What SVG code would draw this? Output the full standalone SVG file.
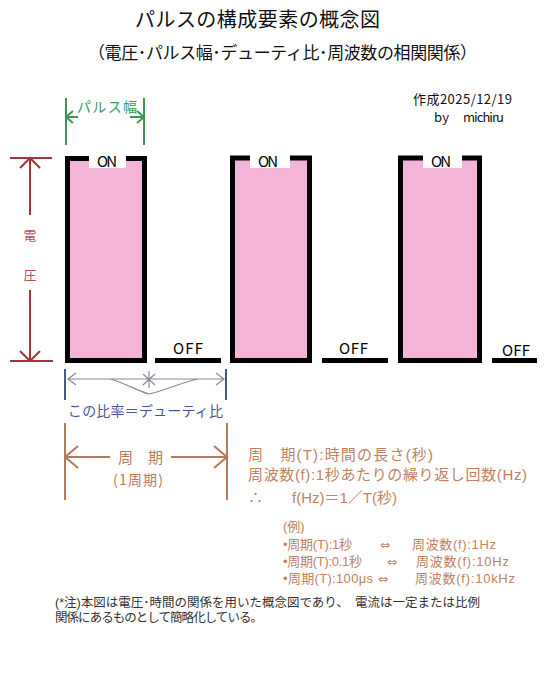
<svg xmlns="http://www.w3.org/2000/svg" width="550" height="696" viewBox="0 0 550 696">
<style>
text{font-family:"Noto Sans CJK JP","Noto Sans",sans-serif}
.ls{font-family:"Liberation Sans","Noto Sans CJK JP",sans-serif}
.dv{font-family:"DejaVu Sans",sans-serif}
.pulse{fill:#f4b4d8;stroke:#000;stroke-width:5}
.off{stroke:#000;stroke-width:5}
.lab{font-size:15px;fill:#000}
.onbox{fill:#fff}
.red{stroke:#a8323a;stroke-width:2;fill:none}
.grn{stroke:#3a9a55;stroke-width:2;fill:none}
.nav{stroke:#4a5590;stroke-width:2;fill:none}
.gry{stroke:#8a8a95;stroke-width:1.2;fill:none}
.brn{stroke:#b47a5a;stroke-width:2;fill:none}
.ft{fill:#c08262}
</style>
<rect width="550" height="696" fill="#fff"/>
<g id="title"><text x="135" y="27" font-size="20" textLength="245" fill="#111">パルスの構成要素の概念図</text></g>
<g id="subtitle"><text x="88" y="59" font-size="17" textLength="389" fill="#111">（電圧･パルス幅･デューティ比･周波数の相関関係）</text></g>
<g id="date"><text x="413" y="104" font-size="13" textLength="99" fill="#111">作成2025/12/19</text><text x="434" y="122" font-size="13" textLength="15" fill="#111">by</text><text x="463" y="122" font-size="13" textLength="41" fill="#111">michiru</text></g>
<g id="pulse1"><rect class="pulse" x="67.5" y="158.5" width="77" height="202"/><rect class="onbox" x="89" y="154" width="37" height="14"/><text class="lab" x="97" y="167" textLength="20">ON</text></g>
<g id="pulse2"><rect class="pulse" x="232.5" y="158" width="77" height="202.5"/><rect class="onbox" x="250" y="154" width="40" height="14"/><text class="lab" x="258" y="167" textLength="20">ON</text></g>
<g id="pulse3"><rect class="pulse" x="400.5" y="158" width="79" height="202.5"/><rect class="onbox" x="423" y="154" width="39" height="14"/><text class="lab" x="431" y="167" textLength="20">ON</text></g>
<g id="off1"><line class="off" x1="155" y1="360.5" x2="221" y2="360.5"/><text class="lab" x="173" y="354" font-size="16" textLength="30">OFF</text></g>
<g id="off2"><line class="off" x1="322" y1="360.5" x2="388" y2="360.5"/><text class="lab" x="339" y="354" font-size="16" textLength="29">OFF</text></g>
<g id="off3"><line class="off" x1="492" y1="360.5" x2="537" y2="360.5"/><text class="lab" x="502" y="356" font-size="16" textLength="28">OFF</text></g>
<g id="voltage"><text x="30" y="240" font-size="13" fill="#c04a50" text-anchor="middle">電</text><text x="30" y="280" font-size="13" fill="#c04a50" text-anchor="middle">圧</text></g>
<g id="pulse-width-label"><text x="77" y="112" font-size="14" textLength="60" fill="#3a9a55">パルス幅</text></g>
<g id="duty-label"><text x="68" y="416" font-size="14" textLength="155" fill="#4a5590">この比率＝デューティ比</text></g>
<g id="period-label"><text x="118" y="463" font-size="15" fill="#b47a5a" textLength="45" xml:space="preserve">周　期</text><text x="113" y="485" font-size="14" fill="#b47a5a" textLength="50">(1周期)</text></g>
<g id="formulas">
<text class="ft ls" x="248" y="460" font-size="15" textLength="185" xml:space="preserve">周　期(T):時間の長さ(秒)</text>
<text class="ft ls" x="248" y="480" font-size="15" textLength="279">周波数(f):1秒あたりの繰り返し回数(Hz)</text>
<text class="ft ls" x="248" y="503" font-size="15">∴</text>
<text class="ft ls" x="292" y="503" font-size="15" textLength="105">f(Hz)＝1／T(秒)</text>
<text class="ft ls" x="283" y="531" font-size="13">(例)</text>
<text class="ft ls" x="283" y="549" font-size="13" textLength="69">•周期(T):1秒</text>
<text class="ft dv" x="380" y="549" font-size="12" textLength="14">⇔</text>
<text class="ft ls" x="412" y="549" font-size="13" textLength="84">周波数(f):1Hz</text>
<text class="ft ls" x="283" y="566" font-size="13" textLength="79">•周期(T):0.1秒</text>
<text class="ft dv" x="387" y="566" font-size="12" textLength="14">⇔</text>
<text class="ft ls" x="416" y="566" font-size="13" textLength="93">周波数(f):10Hz</text>
<text class="ft ls" x="283" y="583" font-size="13" textLength="90">•周期(T):100μs</text>
<text class="ft dv" x="378" y="583" font-size="12" textLength="14">⇔</text>
<text class="ft ls" x="415" y="583" font-size="13" textLength="100">周波数(f):10kHz</text>
</g>
<g id="note"><text class="ls" x="55" y="607" font-size="12.5" fill="#333" textLength="425" xml:space="preserve">(*注)本図は電圧･時間の関係を用いた概念図であり、　電流は一定または比例</text><text class="ls" x="55" y="622" font-size="12.5" fill="#333" textLength="208">関係にあるものとして簡略化している。</text></g>
<g id="connectors">
<line class="red" x1="10" y1="158" x2="52" y2="158"/><line class="red" x1="10" y1="361" x2="53" y2="361"/>
<path class="red" d="M30,158V215M30,290V361M20,168L30,158L40,168M20,351L30,361L40,351"/>
<path class="grn" d="M66,98V145M144,98V145M66,117H78M130,117H144M73,111L66,117L73,123M137,111L144,117L137,123"/>
<path class="nav" d="M65,369V400M226,369V400"/>
<path class="gry" d="M68,379H224M76,373L68,379L76,385M216,373L224,379L216,385M110,379C125,383 140,392 149,394C160,392 180,383 198,379M149,371V388M143,374L155,385M155,374L143,385"/>
<path class="brn" d="M65,423V500M227,423V500M65,457H110M171,457H227M78,446L65,457L78,468M214,446L227,457L214,468"/>
</g>
</svg>
